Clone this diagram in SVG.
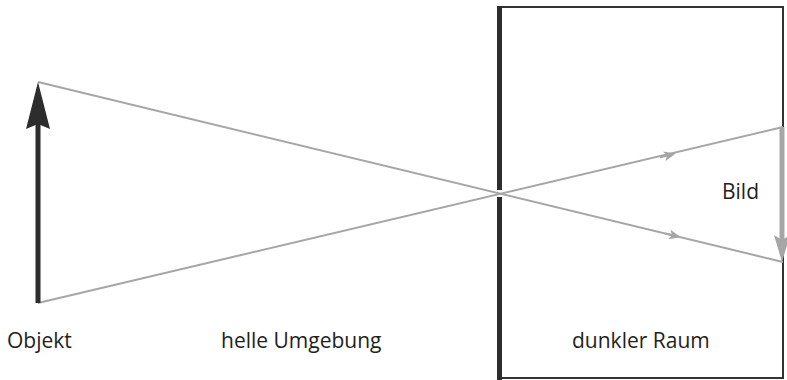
<svg xmlns="http://www.w3.org/2000/svg" width="787" height="380" viewBox="0 0 787 380">
<style>
.t{font-family:"Open Sans","Noto Sans",sans-serif;font-size:21px;fill:#231f20}
.ray{stroke:#a6a6a6;stroke-width:2;fill:none}
</style>
<defs>
<marker id="mid" viewBox="0 0 12 10" refX="6" refY="5" markerWidth="12" markerHeight="10" markerUnits="userSpaceOnUse" orient="auto">
<path d="M0,0 L12,5 L0,10 L3,5 Z" fill="#a6a6a6"/>
</marker>
</defs>
<rect width="787" height="380" fill="#fff"/>
<g id="room">
<path d="M499.5,7 H783 V378 H499.5" fill="none" stroke="#333" stroke-width="2"/>
<path d="M499.5,6 V190 M499.5,197 V380" stroke="#2d2d2d" stroke-width="5"/>
</g>
<g id="connectors">
<line class="ray" x1="38" y1="82" x2="783" y2="262"/>
<line class="ray" x1="38" y1="303" x2="783" y2="127"/>
<line class="ray" x1="660" y1="157.3" x2="670" y2="154.9" marker-end="url(#mid)"/>
<line class="ray" x1="665" y1="233.5" x2="675" y2="235.9" marker-end="url(#mid)"/>
</g>
<g id="objekt">
<line x1="38" y1="303" x2="38" y2="108" stroke="#2d2d2d" stroke-width="5"/>
<path d="M38,82 L50,129 L38,124 L26,129 Z" fill="#2d2d2d"/>
<text class="t" x="7" y="348">Objekt</text>
</g>
<g id="bild">
<line x1="782" y1="127" x2="782" y2="245" stroke="#a6a6a6" stroke-width="5"/>
<path d="M782,262 L774,235 L782,240 L790,235 Z" fill="#a6a6a6"/>
<text class="t" x="722" y="199">Bild</text>
</g>
<g id="labels">
<text class="t" x="221" y="348">helle Umgebung</text>
<text class="t" x="572" y="348">dunkler Raum</text>
</g>
</svg>
